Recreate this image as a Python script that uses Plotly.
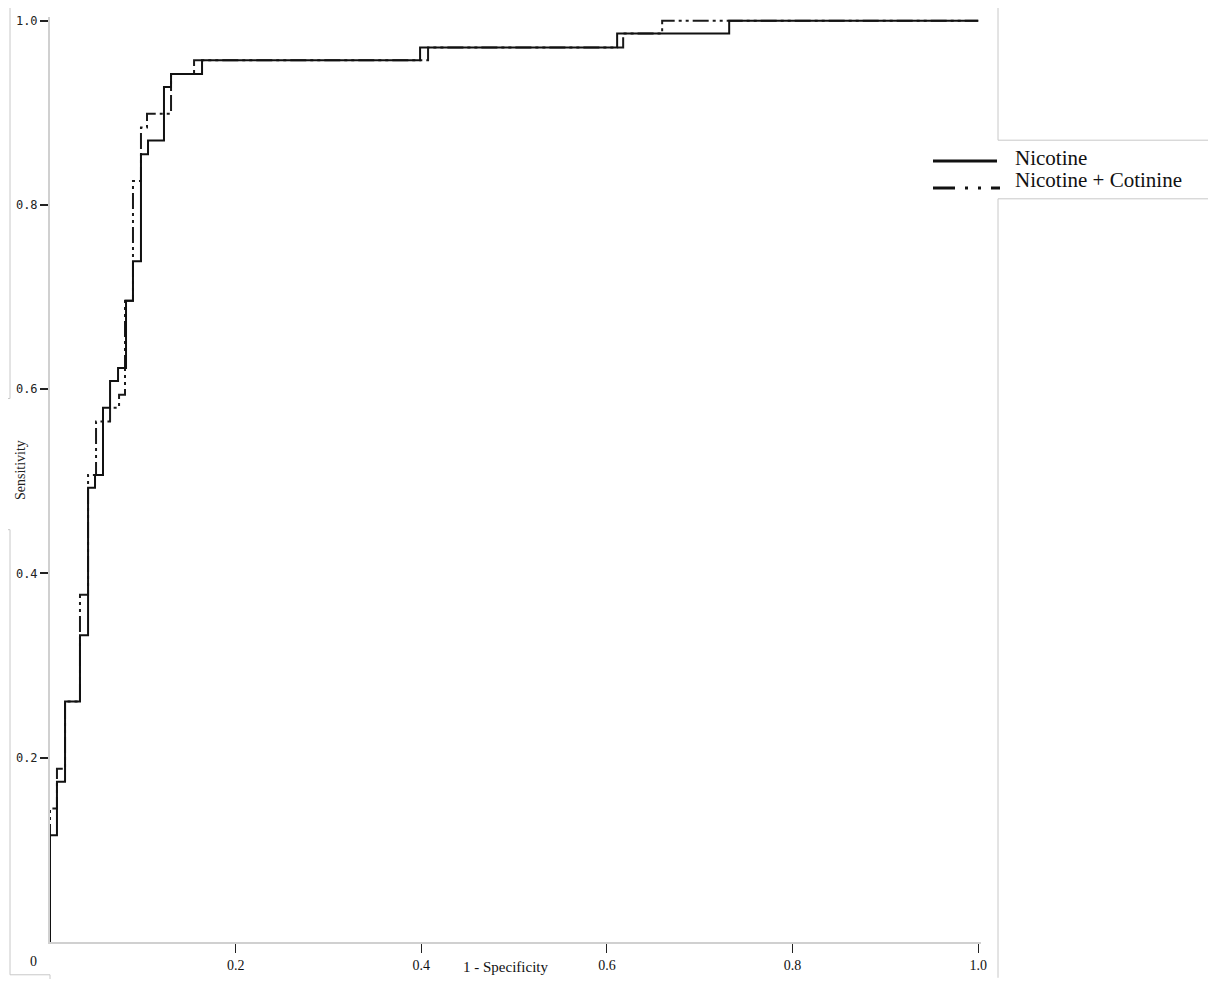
import plotly.graph_objects as go

# ---- data ----
nic_fpr = [0.0, 0.0075, 0.0162, 0.0323, 0.041, 0.0485, 0.0571, 0.0647, 0.0733, 0.0819,
           0.0894, 0.098, 0.1056, 0.1228, 0.1304, 0.1638, 0.3987, 0.611, 0.7317, 1.0]
nic_tpr = [0.0, 0.116, 0.174, 0.261, 0.333, 0.493, 0.507, 0.580, 0.609, 0.623,
           0.696, 0.739, 0.855, 0.870, 0.928, 0.942, 0.957, 0.971, 0.986, 1.0]

nc_fpr = [0.0, 0.0075, 0.0162, 0.0323, 0.041, 0.0496, 0.0647, 0.0744, 0.0808, 0.0894,
          0.098, 0.1045, 0.1304, 0.1552, 0.4073, 0.6175, 0.6595, 1.0]
nc_tpr = [0.0, 0.145, 0.188, 0.261, 0.377, 0.507, 0.565, 0.580, 0.594, 0.696,
          0.826, 0.884, 0.899, 0.942, 0.957, 0.971, 0.986, 1.0]

tick_vals = [0.2, 0.4, 0.6, 0.8, 1.0]
tick_text = ["0.2", "0.4", "0.6", "0.8", "1.0"]
series_names = ["Nicotine", "Nicotine + Cotinine"]

# the page body has an 8px margin, so the figure is drawn 8px in from the window corner
OFF = 8
W, H = 1216 - 2 * OFF, 987 - 2 * OFF
# plot area in window pixels: x 50..981, y 14..945
L = 50 - OFF
T = 14 - OFF
R = W - (981 - OFF)
B = H - (945 - OFF)
PW, PH = W - L - R, H - T - B


def px(x):
    """window pixel x -> paper coordinate"""
    return (x - OFF - L) / PW


def py(y):
    """window pixel y -> paper coordinate"""
    return 1 - (y - OFF - T) / PH


fig = go.Figure()
fig.add_trace(go.Scatter(x=nc_fpr, y=nc_tpr, mode="lines", line_shape="vh",
                         name=series_names[1],
                         line=dict(color="#1a1a1a", width=2, dash="16px,4px,3px,4px,3px,4px"),
                         showlegend=False))
fig.add_trace(go.Scatter(x=nic_fpr, y=nic_tpr, mode="lines", line_shape="vh",
                         name=series_names[0],
                         line=dict(color="#111111", width=2),
                         showlegend=False))

shapes = []
# legend samples
shapes.append(dict(type="line", xref="paper", yref="paper", x0=px(933), x1=px(997),
                   y0=py(159), y1=py(159), line=dict(color="#111", width=3)))
shapes.append(dict(type="line", xref="paper", yref="paper", x0=px(933), x1=px(1000),
                   y0=py(186), y1=py(186),
                   line=dict(color="#111", width=3, dash="22px,10px,3px,10px,3px,10px")))

# faint grey frame lines seen in the reference image
grey = dict(color="#c8c8c8", width=1)
frame_segments = [
    (10, 0, 10, 398), (0, 398, 10, 398),
    (0, 530, 10, 530), (10, 530, 10, 978), (10, 978, 50, 978), (50, 978, 50, 987),
    (81, 984, 81, 987), (81, 984, 436, 984), (436, 984, 436, 987),
    (594, 984, 594, 987), (594, 984, 1000, 984),
    (998, 0, 998, 138), (998, 138, 1216, 138),
    (998, 197, 1216, 197), (998, 197, 998, 981),
]
for x0, y0, x1, y1 in frame_segments:
    shapes.append(dict(type="line", xref="paper", yref="paper",
                       x0=px(x0), x1=px(x1), y0=py(y0), y1=py(y1), line=grey))

annotations = [
    dict(text=series_names[0], x=px(1013), y=py(156), xanchor="left", yanchor="middle",
         font=dict(family="Liberation Serif", size=21, color="#111")),
    dict(text=series_names[1], x=px(1013), y=py(178), xanchor="left", yanchor="middle",
         font=dict(family="Liberation Serif", size=21, color="#111")),
    dict(text="Sensitivity", x=px(20), y=py(470), textangle=-90, xanchor="center",
         yanchor="middle", font=dict(family="Liberation Serif", size=14, color="#222")),
    dict(text="1 - Specificity", x=px(505), y=py(970), xanchor="center", yanchor="middle",
         font=dict(family="Liberation Serif", size=15, color="#111")),
    dict(text="0", x=px(33), y=py(965), xanchor="center", yanchor="middle",
         font=dict(family="Liberation Serif", size=14, color="#111")),
]
for a in annotations:
    a.update(xref="paper", yref="paper", showarrow=False)

fig.update_layout(
    width=W, height=H,
    margin=dict(l=L, r=R, t=T, b=B, pad=0),
    paper_bgcolor="white", plot_bgcolor="white",
    shapes=shapes, annotations=annotations,
    xaxis=dict(range=[0, 1.003], tickvals=tick_vals, ticktext=tick_text,
               ticks="outside", ticklen=9, tickwidth=1, tickcolor="#222",
               showline=True, linecolor="#d0d0d0", linewidth=2,
               showgrid=False, zeroline=False,
               tickfont=dict(family="Liberation Serif", size=14, color="#111")),
    yaxis=dict(range=[0, 1.004], tickvals=tick_vals, ticktext=tick_text,
               ticks="outside", ticklen=8, tickwidth=1.5, tickcolor="#222",
               showline=True, linecolor="#d0d0d0", linewidth=2,
               showgrid=False, zeroline=False,
               tickfont=dict(family="DejaVu Sans Mono", size=12, color="#222")),
)

fig.write_html("out.html")
